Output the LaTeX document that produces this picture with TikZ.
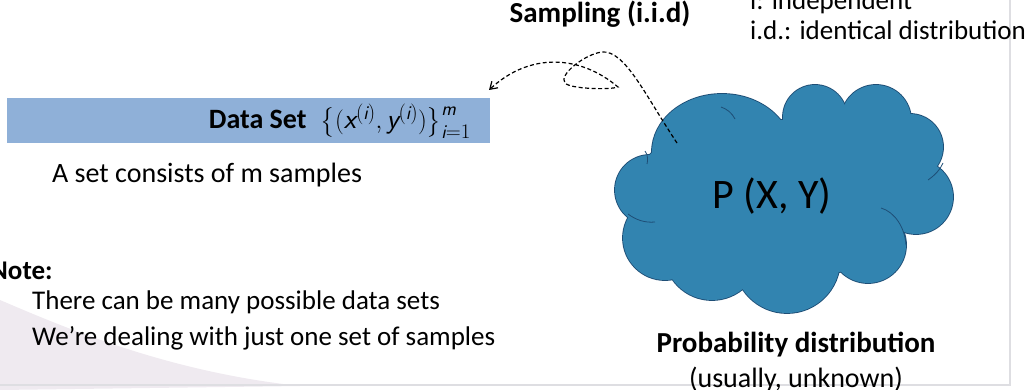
\documentclass[tikz,border=0pt]{standalone}
\usepackage{amsmath}
\usepackage{fontspec}
\setmainfont{Carlito}
\usetikzlibrary{arrows.meta}

\definecolor{setblue}{RGB}{143,176,216}
\definecolor{cloudblue}{RGB}{50,132,176}
\definecolor{cloudedge}{RGB}{30,78,118}
\definecolor{swoosh}{RGB}{196,178,200}
\definecolor{frameline}{RGB}{222,222,226}

% italic sans letters for the data set formula
\newcommand\mv[1]{\text{\sffamily\itshape #1}}
\newcommand\fsz[1]{\fontsize{#1}{#1}\selectfont}

\tikzset{
  txt/.style={inner sep=0pt, text=black},
  puffedge/.style={draw=cloudedge, line width=1.8pt},
  pufffill/.style={fill=cloudblue},
  innerarc/.style={draw=cloudedge, line width=0.8pt},
  sampling/.style={dash pattern=on 4pt off 2.5pt, line width=1.2pt,
    -{Straight Barb[length=7pt,width=9pt,line width=1.2pt]}},
}

% outline of the cloud: one shape per puff
\newcommand\cloudpuffs[1]{%
  \path[#1] (650,190) circle[radius=35pt];
  \path[#1] (665,238) circle[radius=42pt];
  \path[#1] (712,252) circle[radius=48pt];
  \path[#1] (787,260) circle[radius=53pt];
  \path[#1] (868,245) circle[radius=38pt];
  \path[#1] (916,197) circle[radius=37pt];
  \path[#1] (910,147) circle[radius=33pt];
  \path[#1] (876,120) circle[radius=35pt];
  \path[#1] (815,117) circle[radius=32pt];
  \path[#1] (722,152) ellipse[x radius=70pt, y radius=58pt];
  \path[#1] (672,175) circle[radius=30pt];
  \path[#1] (785,200) ellipse[x radius=125pt, y radius=80pt];
}

\begin{document}
\begin{tikzpicture}[x=1pt,y=-1pt]
\useasboundingbox (0,0) rectangle (1027,390);
\clip (0,0) rectangle (1027,390);

% slide background decoration
\fill[swoosh, opacity=0.28] (0,300) .. controls (70,330) and (170,372) .. (300,386) -- (0,390) -- cycle;
\draw[frameline, line width=1.5pt] (0,385) -- (1010,385) -- (1010,0);

% data set bar
\node[fill=setblue, minimum width=483pt, minimum height=45pt, inner sep=0pt,
      anchor=north west] (bar) at (7,98) {};
\node[txt, anchor=east, font=\fsz{28}] (setlabel) at (471,121)
  {\textbf{Data Set}\; $\bigl\{(\mv{x}^{(\mv{i})},\mv{y}^{(\mv{i})})\bigr\}_{\mv{i}=1}^{\mv{m}}$};
\node[txt, anchor=west, font=\fsz{28}] (setnote) at (52,175) {A set consists of m samples};

% note
\node[txt, anchor=west, font=\fsz{27}\bfseries] (notehead) at (-10,271) {Note:};
\node[txt, anchor=west, font=\fsz{27}] (note1) at (32,302) {There can be many possible data sets};
\node[txt, anchor=west, font=\fsz{27}] (note2) at (32,338) {We’re dealing with just one set of samples};

% sampling labels
\node[txt, font=\fsz{29}\bfseries] (samp) at (600,14) {Sampling (i.i.d)};
\node[txt, anchor=west, font=\fsz{27}] (iidA) at (750,2) {i: independent};
\node[txt, anchor=west, font=\fsz{27}] (iidB) at (750,30) {i.d.: identical distribution};

% cloud: edges first, fills on top leave only the outer rim
\cloudpuffs{puffedge}
\cloudpuffs{pufffill}
\path[innerarc] (881,208) .. controls (895,212) and (905,228) .. (906,245);
\path[innerarc] (628,214) .. controls (636,220) and (645,223) .. (655,222);
\path[innerarc] (721,107) .. controls (727,109) and (732,113) .. (735,119);
\path[innerarc] (928,180) .. controls (935,175) and (940,170) .. (943,163);
\path[innerarc] (645,151) .. controls (648,155) and (648,160) .. (647,164);
\node[txt, font=\fsz{42}] (pxy) at (772,196) {P (X, Y)};

\node[txt, font=\fsz{29}\bfseries] (prob) at (796,345) {Probability distribution};
\node[txt, font=\fsz{28}] (usual) at (796,380) {(usually, unknown)};

% sampling arrow, from the cloud back to the data set
\coordinate (src) at (677,143);
\coordinate (tip) at (489,90);
\draw[sampling] (src) .. controls (645,95) and (625,50) .. (602,52)
  .. controls (585,54) and (558,75) .. (565,83)
  .. controls (570,89) and (610,90) .. (618,87)
  .. controls (580,55) and (530,52) .. (tip);
\end{tikzpicture}
\end{document}
